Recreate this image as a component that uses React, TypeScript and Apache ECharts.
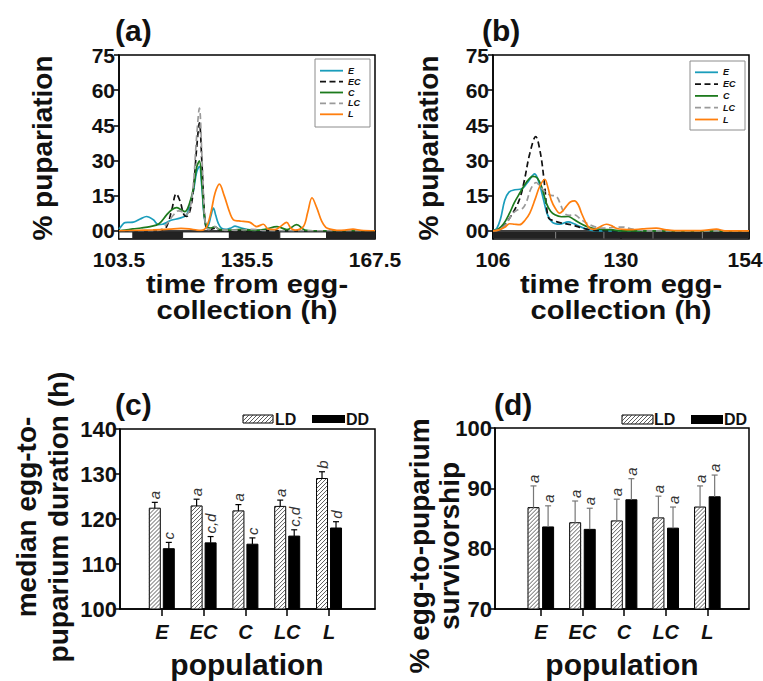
import React, { useEffect, useRef } from 'react';
import * as echarts from 'echarts';

const FONT = "'Liberation Sans', Arial, Helvetica, sans-serif";

// ---------- data ----------
const POPS = ['E', 'EC', 'C', 'LC', 'L'];
const LINE_COLORS = ['#1a9dbb', '#111111', '#1d7a1d', '#9a9a9a', '#ff7f0e'];
const LINE_DASHED = [false, true, false, true, false];

const PUP_TICKS = [0, 15, 30, 45, 60, 75];
const A_X_TICKS = [103.5, 135.5, 167.5];
const B_X_TICKS = [106, 130, 154];

// panel (a): [hour, % pupariation]
const A_E = [[103.5,0.8],[104,1.8],[105,3.5],[106,3.6],[107.1,3.7],[108.8,5],[110.4,6.1],[112.1,4.7],[113.3,2.6],[114.4,2.8],[115.4,3.5],[116.5,4.5],[118.75,5.4],[120.4,6.8],[121.3,12],[122.1,17],[122.9,25],[123.6,27.5],[124.2,19],[124.8,6],[125.4,1.5],[125.9,2.5],[126.5,6.5],[127.1,9.7],[127.7,6.5],[128.3,3.3],[129.1,1.1],[130.3,0.6],[131.5,1.2],[132.5,2],[133.5,1.5],[135.4,0.6],[137,0.2],[140,0.1],[145,0],[167.5,0]];
const A_EC = [[103.5,0],[112,0],[114,0.2],[115.4,1.8],[116.7,9],[117.8,15.8],[118.8,12.5],[119.7,7],[120.4,6.1],[121.3,9],[122.1,17.5],[122.9,35],[123.6,46],[124.2,30],[124.7,12],[125.1,3],[125.6,0.5],[126.5,0.6],[127.5,1.1],[128.5,0.3],[130,0],[167.5,0]];
const A_C = [[103.5,0],[105,0.3],[107,0.8],[109,1.2],[111.3,1.8],[113.5,3],[115.4,6.8],[116.7,9],[117.9,9.9],[119,9],[120,8.2],[121,11],[122.1,18],[122.9,27],[123.6,29.8],[124.2,21],[124.8,7],[125.5,1.5],[126.5,1.2],[127.5,1.8],[128.5,0.6],[131,0.3],[134,0.6],[137,0.2],[140,0.6],[143,1.8],[145.5,0.5],[147.9,2.6],[150,0.3],[152,0],[167.5,0]];
const A_LC = [[103.5,0],[112,0],[114,0.5],[115.5,3],[117,6.5],[118.3,8.5],[119.5,8],[120.4,7],[121.3,10],[122.1,20],[122.9,40],[123.6,52.3],[124.2,33],[124.7,12],[125.2,2],[126,0.5],[127.5,1.8],[128.5,0.5],[133,0.3],[137,0.6],[140,0],[167.5,0]];
const A_L = [[103.5,0],[108,0.2],[112,0.4],[116,0.7],[119,1],[121,0.8],[123,0.3],[124,0.2],[125.4,1.8],[126.5,8],[127.5,16],[128.6,19.9],[129.8,15],[131.25,7.5],[132.1,4.7],[133.5,4.2],[134.6,4],[136.25,3.6],[137.9,1.8],[139.6,2.8],[140.8,0.7],[142.5,0.5],[144,2],[145.4,3.6],[146.5,1],[147.5,0.3],[149.6,1.8],[150.7,8],[151.75,14.1],[152.9,10],[154.2,4],[155.2,1.5],[156.25,0.7],[158,0.2],[160,0.3],[162,0.7],[164,0.2],[167.5,0]];

// panel (b)
const B_E = [[106,0],[106.7,1],[107.4,5],[108.2,13],[109,16.5],[110.1,17.5],[111.3,17.8],[112.6,21],[113.8,24.3],[114.7,20],[115.5,13],[116.2,7],[117.2,3.5],[118.5,2.8],[120.1,3.8],[121.2,3],[122.3,1.8],[124,0.4],[126,0],[154,0]];
const B_EC = [[106,0],[107,0.5],[107.9,1.8],[109,5],[110.4,10.4],[111.2,15],[111.9,21.7],[112.9,33],[114,40.2],[114.9,33],[115.7,18.9],[116.1,9],[116.5,5.2],[117.3,4.4],[118.5,3.5],[121,2.4],[122.5,1.3],[123.5,0.7],[125,0.2],[127,0],[154,0]];
const B_C = [[106,0],[107,0.8],[108,3],[109.1,7.5],[110,12],[111,16],[112.2,20.5],[113.5,23.2],[114.3,22.5],[115.1,18.9],[116,11.8],[116.8,8.3],[117.6,6.8],[118.8,6],[120.1,6.1],[121.2,4.8],[122.25,3.3],[123.5,1.9],[124.75,1.1],[126.5,0.6],[128.5,0.4],[130,0],[154,0]];
const B_LC = [[106,0],[107,0.4],[108.3,2.5],[109.75,7.5],[110.7,9],[111.6,9.7],[112.3,12.5],[112.9,16.8],[113.5,19.5],[114.1,20.6],[114.8,19],[115.4,17.5],[116.6,15.3],[117.9,14.6],[118.7,11],[119.4,7.5],[120.3,6.6],[121.3,6.8],[122.4,5],[123.5,3.3],[125,1.8],[126.6,1.1],[128.5,1.4],[130.4,1.6],[131.7,0.9],[132.9,0.4],[135,0],[154,0]];
const B_L = [[106,0],[107,0.3],[108.2,1.5],[109.1,3],[110,2.8],[111,2.6],[112,4.5],[112.9,7.5],[113.9,13.5],[114.75,18.9],[115.7,22],[116.3,18.5],[116.9,13.2],[117.7,9.5],[118.5,7.5],[119.1,8.5],[119.75,10.4],[120.5,12.3],[121.3,12.8],[122,11],[122.6,7.5],[123.4,3.5],[124.1,1.1],[124.9,0.6],[126,1.6],[127.25,2.8],[128.2,2.2],[129.1,1.1],[130.5,0.6],[132,0.5],[134,0.8],[136.6,1.1],[138.5,0.4],[140,0.1],[145,0.1],[147.9,0.7],[149.5,0],[154,0]];

// light (0) / dark (1) phases: [start h, end h, dark]
const A_PHASES = [[103.5,107,0],[107,119.4,1],[119.4,131.1,0],[131.1,143.7,1],[143.7,155.4,0],[155.4,167.5,1]];
const B_PHASES = [[106,117.75,1],[117.75,126.8,1],[126.8,136,1],[136,145.25,1],[145.25,154,1]];

// panel (c): median egg-to-puparium duration (h)
const DUR_LD = [122.4, 122.9, 121.8, 122.8, 129.0];
const DUR_LD_ERR = [1.3, 1.5, 1.4, 1.4, 1.5];
const DUR_DD = [113.4, 114.7, 114.4, 116.2, 118.0];
const DUR_DD_ERR = [1.4, 1.4, 1.4, 1.4, 1.4];
const DUR_LD_LETTERS = ['a', 'a', 'a', 'a', 'b'];
const DUR_DD_LETTERS = ['c', 'c,d', 'c', 'c,d', 'd'];
const DUR_TICKS = { min: 100, max: 140, interval: 10 };

// panel (d): % egg-to-puparium survivorship
const SURV_LD = [86.8, 84.3, 84.6, 85.1, 86.9];
const SURV_LD_ERR = [3.6, 3.6, 3.6, 3.6, 3.5];
const SURV_DD = [83.6, 83.2, 88.1, 83.4, 88.6];
const SURV_DD_ERR = [3.5, 3.5, 3.5, 3.5, 3.6];
const SURV_LD_LETTERS = ['a', 'a', 'a', 'a', 'a'];
const SURV_DD_LETTERS = ['a', 'a', 'a', 'a', 'a'];
const SURV_TICKS = { min: 70, max: 100, interval: 10 };

// ---------- layout helpers ----------
const SLOTS = 62; // fine category slots so population ticks land where the figure has them
const C_FIRST = 10;
const D_FIRST = 11;
const SLOT_STEP = 10;
const BAR_W = 11;
const BAND_TOP = -0.5;
const BAND_BOTTOM = -3.3;
const PUP_MIN = -3.5;

function hatchLines(x: number, y: number, w: number, h: number, step: number, style: any) {
  const out: any[] = [];
  const x1 = x + w, y1 = y + h;
  for (let k = x + y + step / 2; k < x1 + y1; k += step) {
    const xs = Math.max(x, k - y1);
    const xe = Math.min(x1, k - y);
    if (xe - xs > 0.3) out.push({ type: 'line', shape: { x1: xs, y1: k - xs, x2: xe, y2: k - xe }, style });
  }
  return out;
}

function slotAxis(gridIndex: number, first: number) {
  const cats = Array.from({ length: SLOTS }, (_, i) => 's' + i);
  const labelAt = (i: number) => i >= first && (i - first) % SLOT_STEP === 0 && (i - first) / SLOT_STEP < POPS.length;
  return {
    gridIndex, type: 'category', data: cats, boundaryGap: false,
    axisLine: { show: true, lineStyle: { color: '#000', width: 1.5 } },
    axisTick: { show: true, interval: (i: number) => labelAt(i), length: 7, lineStyle: { color: '#000', width: 1.5 } },
    axisLabel: {
      interval: (i: number) => labelAt(i),
      formatter: (_v: string, i: number) => (labelAt(i) ? POPS[(i - first) / SLOT_STEP] : ''),
      fontFamily: FONT, fontSize: 20, fontStyle: 'italic', fontWeight: 'bold', color: '#111', margin: 13,
    },
    splitLine: { show: false },
  };
}

function barSeries(gridIndex: number, first: number, vals: number[], errs: number[], letters: string[], offset: number, hatched: boolean, yMin: number, errColor: string) {
  const data = vals.map((v, i) => [first + i * SLOT_STEP, v, errs[i]]);
  return {
    type: 'custom', xAxisIndex: gridIndex, yAxisIndex: gridIndex, data,
    encode: { x: 0, y: 1 },
    renderItem: (params: any, api: any) => {
      const idx = api.value(0), v = api.value(1), e = api.value(2);
      const [cx, top] = api.coord([idx, v]);
      const bottom = api.coord([idx, yMin])[1];
      const errTop = api.coord([idx, v + e])[1];
      const mx = cx + offset;
      const bx = mx - BAR_W / 2;
      const children: any[] = [];
      children.push({ type: 'rect', shape: { x: bx, y: top, width: BAR_W, height: bottom - top }, style: { fill: hatched ? '#fff' : '#000', stroke: '#000', lineWidth: 1 } });
      if (hatched) children.push(...hatchLines(bx, top, BAR_W, bottom - top, 4, { stroke: '#333', lineWidth: 0.8 }));
      children.push({ type: 'line', shape: { x1: mx, y1: top, x2: mx, y2: errTop }, style: { stroke: errColor, lineWidth: 1.2 } });
      children.push({ type: 'line', shape: { x1: mx - 3, y1: errTop, x2: mx + 3, y2: errTop }, style: { stroke: errColor, lineWidth: 1.2 } });
      children.push({ type: 'text', x: mx, y: errTop - 3, rotation: Math.PI / 2, style: { text: letters[params.dataIndex], font: `italic 15px ${FONT}`, fill: '#333', align: 'left', verticalAlign: 'middle' } });
      return { type: 'group', children };
    },
  };
}

function phaseSeries(gridIndex: number, phases: number[][], separators: boolean) {
  return {
    type: 'custom', xAxisIndex: gridIndex, yAxisIndex: gridIndex, data: phases, z: 3,
    encode: { x: [0, 1] },
    renderItem: (params: any, api: any) => {
      const p0 = api.coord([api.value(0), BAND_TOP]);
      const p1 = api.coord([api.value(1), BAND_BOTTOM]);
      const dark = api.value(2) === 1;
      const children: any[] = [{
        type: 'rect', shape: { x: p0[0], y: p0[1], width: p1[0] - p0[0], height: p1[1] - p0[1] },
        style: { fill: dark ? '#222' : '#fff', stroke: separators ? null : '#222', lineWidth: 1 },
      }];
      if (separators && params.dataIndex > 0) {
        children.push({ type: 'line', shape: { x1: p0[0], y1: p0[1], x2: p0[0], y2: p1[1] }, style: { stroke: '#8a8a8a', lineWidth: 0.8 } });
      }
      return { type: 'group', children };
    },
  };
}

function lineSeries(gridIndex: number, sets: number[][][]) {
  return sets.map((d, i) => ({
    name: POPS[i], type: 'line', xAxisIndex: gridIndex, yAxisIndex: gridIndex, data: d,
    smooth: 0.35, showSymbol: false, symbol: 'none', z: 2,
    lineStyle: { color: LINE_COLORS[i], width: 1.7, type: LINE_DASHED[i] ? [6, 3.5] : 'solid' },
    itemStyle: { color: LINE_COLORS[i] },
  }));
}

function pupYAxis(gridIndex: number) {
  return {
    gridIndex, type: 'value', min: PUP_MIN, max: 75,
    axisLine: { show: true, lineStyle: { color: '#000', width: 1.5 } },
    axisTick: { show: true, customValues: PUP_TICKS, length: 5, lineStyle: { color: '#000', width: 1.5 } },
    axisLabel: { customValues: PUP_TICKS, formatter: (v: number) => (v === 0 ? '00' : String(v)), fontFamily: FONT, fontSize: 21, fontWeight: 'bold', color: '#111', margin: 4 },
    splitLine: { show: false },
  };
}

function timeXAxis(gridIndex: number, ticks: number[], nudgeLast: boolean) {
  const last = ticks[ticks.length - 1];
  return {
    gridIndex, type: 'value', min: ticks[0], max: last,
    axisLine: { show: true, lineStyle: { color: '#000', width: 1.5 } },
    axisTick: { show: true, customValues: ticks, length: 8, lineStyle: { color: '#000', width: 1.5 } },
    axisLabel: {
      customValues: ticks,
      formatter: (v: number) => (nudgeLast && v === last ? `{r|${v}}` : String(v)),
      rich: { r: { fontFamily: FONT, fontSize: 21, fontWeight: 'bold', color: '#111', padding: [0, 8, 0, 0] } },
      fontFamily: FONT, fontSize: 21, fontWeight: 'bold', color: '#111', margin: 10,
    },
    splitLine: { show: false },
  };
}

function barYAxis(gridIndex: number, t: { min: number; max: number; interval: number }) {
  return {
    gridIndex, type: 'value', min: t.min, max: t.max, interval: t.interval,
    axisLine: { show: true, lineStyle: { color: '#000', width: 1.5 } },
    axisTick: { show: true, length: 6, lineStyle: { color: '#000', width: 1.5 } },
    axisLabel: { fontFamily: FONT, fontSize: 22, fontWeight: 'bold', color: '#111', margin: 3 },
    splitLine: { show: false },
  };
}

// legend for the line panels, built from POPS / colours / dash flags
function lineLegend(bx: number, by: number, bw: number, bh: number, y0: number, step: number, lx: number) {
  const children: any[] = [
    { type: 'rect', shape: { x: bx, y: by, width: bw, height: bh }, style: { fill: '#fff', stroke: '#8c8c8c', lineWidth: 1 } },
  ];
  POPS.forEach((p, i) => {
    const y = y0 + i * step;
    children.push({ type: 'line', shape: { x1: lx, y1: y, x2: lx + 23, y2: y }, style: { stroke: LINE_COLORS[i], lineWidth: 1.8, lineDash: LINE_DASHED[i] ? [6, 3.5] : null } });
    children.push({ type: 'text', x: lx + 28, y, style: { text: p, font: `italic bold 9px ${FONT}`, fill: '#111', verticalAlign: 'middle' } });
  });
  return { type: 'group', z: 100, children };
}

function barLegend(x: number, y: number, w1: number, xt1: number, x2: number, w2: number, xt2: number, h: number) {
  return {
    type: 'group', children: [
      { type: 'rect', shape: { x, y, width: w1, height: h }, style: { fill: '#fff', stroke: '#000', lineWidth: 1 } },
      ...hatchLines(x, y, w1, h, 4, { stroke: '#333', lineWidth: 0.8 }),
      { type: 'text', x: xt1, y: y + h / 2, style: { text: 'LD', font: `bold 16px ${FONT}`, fill: '#111', verticalAlign: 'middle' } },
      { type: 'rect', shape: { x: x2, y, width: w2, height: h }, style: { fill: '#000' } },
      { type: 'text', x: xt2, y: y + h / 2, style: { text: 'DD', font: `bold 16px ${FONT}`, fill: '#111', verticalAlign: 'middle' } },
    ],
  };
}

function txt(text: string, x: number, y: number, size: number, opts: any = {}) {
  return {
    type: 'text', x, y, rotation: opts.rotation || 0, scaleX: opts.scaleX || 1,
    style: { text, font: `bold ${size}px ${FONT}`, fill: '#111', align: opts.align || 'center', verticalAlign: 'middle', lineHeight: opts.lineHeight || size },
  };
}

export default function App() {
  const ref = useRef<HTMLDivElement>(null);
  useEffect(() => {
    if (!ref.current) return;
    const chart = echarts.init(ref.current, undefined, { renderer: 'svg' });
    const gridBase = { show: true, borderColor: '#000', borderWidth: 1.5, backgroundColor: 'transparent', containLabel: false, outerBoundsMode: 'none' };
    const option: any = {
      animation: false,
      backgroundColor: '#fff',
      textStyle: { fontFamily: FONT },
      grid: [
        { ...gridBase, left: 119, top: 55, width: 256, height: 184 },
        { ...gridBase, left: 493, top: 55, width: 256, height: 184 },
        { ...gridBase, left: 120, top: 429, width: 255, height: 180 },
        { ...gridBase, left: 495, top: 428, width: 254, height: 181 },
      ],
      xAxis: [timeXAxis(0, A_X_TICKS, false), timeXAxis(1, B_X_TICKS, true), slotAxis(2, C_FIRST), slotAxis(3, D_FIRST)],
      yAxis: [pupYAxis(0), pupYAxis(1), barYAxis(2, DUR_TICKS), barYAxis(3, SURV_TICKS)],
      series: [
        ...lineSeries(0, [A_E, A_EC, A_C, A_LC, A_L]),
        phaseSeries(0, A_PHASES, false),
        ...lineSeries(1, [B_E, B_EC, B_C, B_LC, B_L]),
        phaseSeries(1, B_PHASES, true),
        barSeries(2, C_FIRST, DUR_LD, DUR_LD_ERR, DUR_LD_LETTERS, -7, true, DUR_TICKS.min, '#000'),
        barSeries(2, C_FIRST, DUR_DD, DUR_DD_ERR, DUR_DD_LETTERS, 7, false, DUR_TICKS.min, '#000'),
        barSeries(3, D_FIRST, SURV_LD, SURV_LD_ERR, SURV_LD_LETTERS, -7.3, true, SURV_TICKS.min, '#777'),
        barSeries(3, D_FIRST, SURV_DD, SURV_DD_ERR, SURV_DD_LETTERS, 7.3, false, SURV_TICKS.min, '#777'),
      ],
      graphic: [
        txt('(a)', 115, 30, 30, { align: 'left' }),
        txt('(b)', 482, 30, 30, { align: 'left' }),
        txt('(c)', 115, 404, 30, { align: 'left' }),
        txt('(d)', 494, 404, 30, { align: 'left' }),
        txt('% pupariation', 42, 148, 28, { rotation: Math.PI / 2 }),
        txt('% pupariation', 428, 148, 28, { rotation: Math.PI / 2 }),
        txt('time from egg-', 247, 284, 26, { scaleX: 1.12 }),
        txt('collection (h)', 247, 310, 26, { scaleX: 1.12 }),
        txt('time from egg-', 621, 284, 26, { scaleX: 1.12 }),
        txt('collection (h)', 621, 310, 26, { scaleX: 1.12 }),
        txt('median egg-to-\npuparium duration (h)', 42, 517, 28, { rotation: Math.PI / 2, lineHeight: 32 }),
        txt('% egg-to-puparium\nsurvivorship', 434, 546, 28, { rotation: Math.PI / 2, lineHeight: 30 }),
        txt('population', 247, 664, 30),
        txt('population', 622, 664, 30),
        lineLegend(315, 59, 55, 68, 70.7, 10.9, 320),
        lineLegend(690, 61, 55, 69, 72.3, 11.8, 695),
        barLegend(243, 415, 30, 275, 312, 33, 346, 8),
        barLegend(622, 415, 31, 654, 691, 32, 724, 9),
      ],
    };
    chart.setOption(option);
    return () => chart.dispose();
  }, []);
  return <div ref={ref} style={{ position: 'fixed', left: 0, top: 0, width: 763, height: 681, background: '#fff' }} />;
}
